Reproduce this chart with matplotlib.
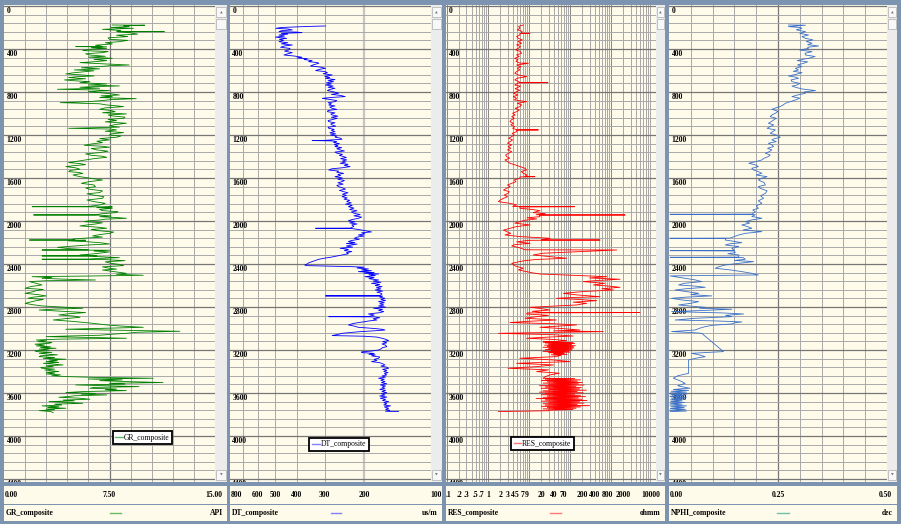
import matplotlib
matplotlib.use('Agg')
import matplotlib.pyplot as plt
from matplotlib.lines import Line2D
from matplotlib.patches import Rectangle
from matplotlib.transforms import blended_transform_factory

# ---- log data (depth, value) ----
gr_pts = [(177, 7.7), (179, 10.0), (185, 8.5), (192, 8.9), (200, 7.6), (208, 9.2), (217, 7.0), (228, 8.3),
          (237, 8.0), (239, 11.4), (241, 8.1), (250, 9.0), (262, 9.5), (272, 8.0), (285, 8.8), (296, 7.4),
          (310, 7.5), (320, 8.8), (332, 8.2), (342, 7.2), (353, 7.7), (365, 6.5), (376, 7.0), (378, 5.1),
          (380, 7.3), (388, 6.2), (394, 7.3), (404, 6.0), (415, 5.6), (424, 7.4), (434, 7.0), (445, 5.8),
          (456, 6.1), (468, 7.2), (476, 6.0), (487, 7.7), (497, 6.4), (508, 7.3), (518, 6.5), (527, 5.4),
          (538, 7.0), (549, 8.9), (556, 7.5), (564, 6.8), (575, 5.5), (585, 6.8), (595, 5.0), (603, 6.4),
          (611, 5.8), (622, 4.9), (632, 4.4), (642, 5.6), (651, 6.4), (658, 5.2), (666, 4.6), (677, 5.8),
          (688, 4.3), (696, 5.0), (704, 6.1), (714, 5.4), (725, 7.3), (735, 6.0), (744, 8.2), (750, 6.4),
          (756, 5.4), (765, 6.8), (775, 3.8), (781, 6.4), (787, 7.5), (797, 6.0), (806, 6.8), (817, 7.6),
          (828, 8.2), (836, 6.9), (843, 7.7), (852, 6.8), (862, 9.4), (871, 7.6), (880, 7.0), (890, 6.0),
          (899, 4.0), (910, 6.8), (921, 7.3), (929, 8.0), (936, 8.5), (948, 7.2), (961, 6.8), (972, 7.6),
          (983, 7.9), (993, 7.0), (1004, 8.7), (1014, 7.4), (1023, 7.7), (1034, 8.6), (1045, 8.5),
          (1055, 7.4), (1066, 8.0), (1078, 7.2), (1091, 8.7), (1103, 7.9), (1116, 7.5), (1127, 8.2),
          (1138, 4.6), (1145, 7.6), (1153, 8.0), (1165, 7.2), (1178, 8.5), (1190, 7.6), (1200, 7.5),
          (1210, 8.3), (1221, 8.0), (1234, 6.8), (1246, 7.5), (1258, 6.6), (1271, 7.0), (1284, 6.2),
          (1296, 5.7), (1305, 7.0), (1314, 7.5), (1326, 6.2), (1339, 6.6), (1351, 7.4), (1364, 6.8),
          (1376, 5.8), (1389, 6.2), (1398, 7.0), (1408, 7.3), (1420, 6.4), (1432, 5.8), (1445, 5.2),
          (1457, 4.6), (1466, 5.4), (1476, 5.8), (1485, 5.0), (1494, 4.4), (1506, 5.1), (1519, 5.4),
          (1530, 4.7), (1541, 4.6), (1549, 5.3), (1557, 5.6), (1572, 4.9), (1588, 5.4), (1603, 6.2),
          (1619, 7.0), (1635, 6.0), (1650, 5.5), (1665, 6.4), (1681, 6.5), (1693, 5.8), (1705, 6.1),
          (1720, 7.0), (1736, 6.8), (1747, 5.9), (1758, 6.3), (1774, 7.1), (1789, 7.0), (1805, 5.9),
          (1820, 6.4), (1836, 7.2), (1851, 6.8), (1865, 6.0), (1867, 2.0), (1869, 7.7), (1876, 6.6),
          (1882, 7.7), (1893, 6.8), (1904, 7.0), (1913, 8.1), (1922, 8.0), (1932, 7.0), (1942, 6.5),
          (1944, 2.1), (1946, 6.8), (1953, 7.6), (1960, 6.8), (1968, 8.0), (1975, 8.7), (1983, 7.2),
          (1991, 6.8), (1999, 6.0), (2006, 5.7), (2017, 7.0), (2028, 6.5), (2037, 5.9), (2046, 5.4),
          (2057, 6.6), (2068, 7.3), (2079, 6.2), (2090, 6.7), (2103, 7.8), (2115, 7.5), (2127, 6.8),
          (2139, 6.3), (2150, 7.0), (2161, 5.6), (2168, 4.9), (2175, 5.0), (2177, 1.8), (2179, 5.8),
          (2185, 4.6), (2192, 5.8), (2203, 6.9), (2214, 7.5), (2223, 6.0), (2232, 5.1), (2245, 3.8),
          (2257, 4.6), (2268, 6.0), (2270, 2.7), (2272, 7.5), (2280, 6.4), (2288, 7.5), (2298, 6.9),
          (2307, 6.3), (2316, 5.4), (2323, 6.6), (2325, 2.7), (2327, 6.0), (2341, 8.2), (2348, 6.8),
          (2354, 6.0), (2356, 2.7), (2358, 7.0), (2369, 8.6), (2380, 7.2), (2394, 7.6), (2404, 8.2),
          (2415, 8.5), (2427, 7.0), (2440, 7.5), (2448, 8.0), (2456, 7.0), (2471, 7.8), (2487, 8.7),
          (2496, 8.0), (2505, 9.9), (2512, 6.0), (2518, 2.0), (2525, 3.4), (2533, 2.7), (2541, 4.2),
          (2549, 6.5), (2556, 3.0), (2564, 1.8), (2580, 2.3), (2595, 2.7), (2610, 1.9), (2626, 1.5),
          (2637, 2.8), (2648, 2.3), (2660, 2.0), (2673, 1.5), (2685, 2.4), (2697, 3.0), (2708, 2.1),
          (2719, 1.7), (2730, 2.8), (2741, 2.3), (2753, 1.9), (2766, 1.5), (2778, 2.0), (2790, 2.7),
          (2800, 4.0), (2812, 5.6), (2820, 3.6), (2828, 2.5), (2840, 4.2), (2852, 5.8), (2863, 4.6),
          (2874, 3.9), (2885, 5.0), (2896, 5.4), (2908, 4.4), (2921, 3.5), (2933, 4.8), (2945, 5.8),
          (2956, 6.6), (2967, 7.3), (2978, 8.4), (2989, 9.9), (2998, 7.0), (3007, 4.4), (3016, 8.0),
          (3026, 12.5), (3035, 9.5), (3045, 8.7), (3054, 7.6), (3063, 6.8), (3070, 4.5), (3076, 3.0),
          (3083, 6.0), (3091, 8.7), (3099, 4.0), (3107, 2.3), (3115, 3.0), (3122, 2.4), (3130, 3.4),
          (3138, 3.2), (3146, 2.2), (3154, 2.9), (3162, 2.3), (3170, 3.3), (3177, 2.6), (3184, 3.7),
          (3192, 2.5), (3200, 3.2), (3208, 2.2), (3215, 2.3), (3222, 3.4), (3230, 2.5), (3237, 3.0),
          (3245, 3.8), (3254, 2.6), (3262, 2.5), (3270, 3.6), (3278, 2.8), (3286, 4.4), (3293, 3.2),
          (3300, 3.8), (3308, 3.0), (3316, 3.9), (3324, 2.8), (3332, 3.6), (3339, 4.2), (3347, 3.0),
          (3355, 3.5), (3363, 2.6), (3370, 2.7), (3378, 3.6), (3386, 2.9), (3394, 3.4), (3401, 3.9),
          (3408, 3.0), (3416, 3.6), (3423, 3.0), (3431, 4.0), (3440, 3.4), (3448, 4.6), (3455, 6.5),
          (3463, 10.6), (3470, 6.0), (3478, 8.4), (3485, 6.8), (3494, 8.8), (3503, 11.3), (3510, 7.5),
          (3518, 8.6), (3525, 5.1), (3533, 7.4), (3541, 9.6), (3548, 6.4), (3556, 6.1), (3563, 8.0),
          (3570, 7.2), (3578, 8.7), (3587, 5.6), (3596, 4.4), (3604, 6.5), (3611, 5.5), (3618, 7.3),
          (3626, 5.0), (3633, 4.6), (3640, 3.9), (3648, 5.3), (3658, 6.1), (3666, 4.2), (3673, 5.0),
          (3680, 3.2), (3688, 4.5), (3696, 5.6), (3704, 3.6), (3712, 4.1), (3720, 2.7), (3728, 3.9),
          (3735, 3.1), (3742, 4.4), (3750, 3.0), (3757, 3.6), (3764, 2.5), (3772, 3.3), (3782, 3.5)]

dt_pts = [(186, 298), (190, 350), (200, 470), (208, 498), (214, 440), (223, 420), (230, 470), (239, 482),
          (243, 400), (248, 380), (255, 470), (262, 440), (270, 482), (280, 455), (290, 500), (301, 445),
          (310, 480), (320, 460), (332, 482), (342, 440), (352, 470), (363, 420), (372, 455), (384, 474),
          (395, 430), (409, 436), (420, 455), (434, 420), (445, 440), (456, 458), (466, 410), (477, 380),
          (484, 400), (490, 360), (498, 372), (508, 342), (518, 355), (526, 325), (533, 319), (545, 335),
          (558, 348), (568, 315), (580, 298), (590, 318), (601, 330), (610, 300), (620, 292), (630, 305),
          (642, 278), (655, 300), (665, 285), (673, 298), (685, 270), (695, 290), (704, 274), (715, 295),
          (725, 280), (735, 298), (745, 275), (756, 290), (766, 270), (777, 285), (787, 292), (800, 272),
          (812, 260), (822, 280), (832, 255), (843, 243), (850, 275), (859, 308), (870, 285), (880, 265),
          (890, 270), (900, 290), (910, 280), (921, 288), (930, 270), (940, 285), (952, 278), (962, 265),
          (972, 290), (983, 292), (995, 270), (1005, 282), (1014, 278), (1025, 262), (1035, 280),
          (1045, 264), (1055, 275), (1066, 290), (1076, 288), (1087, 270), (1097, 282), (1107, 278),
          (1118, 268), (1128, 290), (1138, 288), (1148, 272), (1158, 280), (1169, 270), (1180, 285),
          (1190, 268), (1200, 283), (1210, 265), (1220, 270), (1230, 255), (1240, 251), (1250, 300),
          (1252, 342), (1255, 280), (1262, 265), (1271, 274), (1280, 258), (1290, 272), (1300, 262),
          (1308, 270), (1318, 252), (1328, 265), (1339, 256), (1349, 245), (1359, 270), (1370, 264),
          (1380, 250), (1390, 258), (1401, 247), (1410, 240), (1420, 255), (1432, 239), (1442, 250),
          (1452, 242), (1463, 256), (1473, 236), (1483, 245), (1494, 231), (1505, 250), (1515, 280),
          (1526, 288), (1536, 260), (1546, 265), (1557, 247), (1567, 262), (1578, 255), (1588, 270),
          (1600, 250), (1612, 262), (1623, 245), (1634, 251), (1645, 262), (1657, 248), (1669, 265),
          (1681, 260), (1692, 250), (1704, 242), (1715, 258), (1727, 247), (1738, 236), (1750, 250),
          (1762, 240), (1774, 251), (1785, 238), (1797, 246), (1808, 232), (1820, 239), (1832, 228),
          (1843, 242), (1855, 226), (1867, 235), (1880, 222), (1893, 232), (1905, 215), (1917, 228),
          (1929, 221), (1941, 208), (1952, 222), (1964, 205), (1975, 212), (1986, 225), (1997, 235),
          (2008, 220), (2018, 232), (2028, 215), (2037, 227), (2050, 222), (2066, 230), (2068, 330),
          (2070, 227), (2077, 215), (2084, 205), (2093, 195), (2102, 185), (2110, 205), (2120, 198),
          (2130, 212), (2140, 200), (2150, 215), (2161, 221), (2170, 210), (2182, 228), (2192, 235),
          (2200, 220), (2210, 240), (2215, 215), (2223, 227), (2233, 240), (2243, 225), (2254, 256),
          (2264, 235), (2275, 245), (2285, 227), (2295, 240), (2305, 235), (2316, 251), (2326, 265),
          (2336, 280), (2347, 303), (2357, 320), (2367, 330), (2378, 342), (2390, 355), (2400, 360),
          (2409, 369), (2415, 365), (2425, 227), (2430, 200), (2438, 215), (2446, 191), (2455, 205),
          (2463, 185), (2471, 212), (2480, 180), (2486, 200), (2493, 172), (2500, 190), (2508, 178),
          (2518, 198), (2527, 180), (2537, 190), (2549, 172), (2559, 182), (2570, 168), (2580, 185),
          (2590, 170), (2600, 178), (2611, 166), (2621, 176), (2632, 168), (2642, 178), (2652, 165),
          (2662, 175), (2672, 168), (2679, 166), (2695, 170), (2697, 298), (2699, 165), (2709, 170),
          (2719, 161), (2729, 168), (2740, 160), (2750, 172), (2760, 162), (2770, 170), (2781, 163),
          (2791, 172), (2801, 160), (2812, 181), (2822, 165), (2832, 172), (2843, 163), (2853, 170),
          (2865, 191), (2875, 180), (2888, 190), (2890, 288), (2892, 180), (2900, 170), (2910, 182),
          (2921, 175), (2930, 190), (2938, 200), (2945, 212), (2955, 225), (2967, 235), (2977, 222),
          (2989, 212), (3000, 180), (3008, 165), (3014, 161), (3020, 175), (3030, 210), (3045, 251),
          (3055, 262), (3066, 278), (3072, 200), (3080, 175), (3091, 166), (3100, 160), (3113, 155),
          (3122, 165), (3133, 158), (3144, 166), (3155, 160), (3169, 158), (3178, 165), (3190, 168),
          (3200, 172), (3210, 185), (3217, 205), (3224, 205), (3232, 180), (3240, 190), (3246, 178),
          (3255, 185), (3265, 170), (3277, 172), (3287, 180), (3297, 175), (3308, 185), (3318, 170),
          (3328, 165), (3339, 161), (3350, 168), (3360, 158), (3370, 155), (3380, 165), (3390, 158),
          (3401, 163), (3410, 156), (3420, 162), (3432, 158), (3442, 166), (3452, 160), (3463, 172),
          (3472, 162), (3482, 168), (3494, 161), (3504, 167), (3514, 158), (3525, 169), (3535, 160),
          (3545, 166), (3556, 161), (3566, 170), (3576, 160), (3587, 166), (3597, 158), (3607, 167),
          (3618, 161), (3628, 170), (3638, 158), (3649, 169), (3659, 160), (3670, 165), (3680, 155),
          (3690, 163), (3700, 158), (3711, 163), (3720, 152), (3730, 162), (3742, 155), (3752, 160),
          (3762, 153), (3770, 160), (3773, 140)]

res_pts = [(177, 7.3), (190, 5.6), (208, 6.0), (222, 5.2), (236, 6.8), (252, 6.5), (254, 10.6), (256, 6.0),
           (270, 6.0), (285, 5.0), (301, 5.5), (316, 6.9), (330, 5.4), (347, 6.6), (362, 5.0), (378, 6.2),
           (394, 5.5), (408, 4.7), (424, 6.2), (440, 6.6), (455, 5.0), (470, 5.8), (487, 4.5), (500, 5.4),
           (515, 4.8), (531, 6.0), (533, 9.7), (549, 5.0), (565, 6.4), (580, 5.2), (595, 6.0), (610, 5.0),
           (626, 4.5), (642, 5.6), (657, 8.8), (672, 5.2), (688, 4.5), (700, 5.4), (711, 6.0), (713, 29),
           (716, 5.5), (735, 4.5), (746, 6.2), (756, 5.5), (770, 4.6), (784, 6.0), (797, 5.0), (812, 4.2),
           (828, 5.4), (843, 4.15), (858, 5.0), (874, 4.4), (890, 8.8), (905, 5.2), (920, 6.6), (936, 6.0),
           (952, 4.6), (968, 5.8), (983, 5.0), (998, 4.0), (1014, 4.6), (1029, 3.8), (1045, 4.4),
           (1060, 3.7), (1076, 3.44), (1091, 4.2), (1106, 3.6), (1122, 4.5), (1138, 4.0), (1151, 5.0),
           (1153, 17), (1156, 5.0), (1169, 5.0), (1185, 3.9), (1200, 4.4), (1215, 3.8), (1230, 3.2),
           (1246, 4.0), (1262, 3.44), (1277, 3.0), (1292, 3.8), (1308, 3.1), (1324, 3.6), (1339, 3.0),
           (1355, 3.8), (1370, 3.2), (1386, 2.7), (1401, 2.85), (1416, 3.4), (1432, 2.6), (1447, 3.0),
           (1463, 3.44), (1478, 4.6), (1494, 6.0), (1510, 8.0), (1525, 8.8), (1540, 6.5), (1557, 7.3),
           (1572, 9.0), (1586, 8.0), (1588, 14), (1590, 6.0), (1603, 6.0), (1618, 4.4), (1634, 4.8),
           (1650, 3.8), (1665, 3.0), (1681, 3.5), (1696, 2.85), (1712, 2.4), (1727, 3.3), (1743, 3.1),
           (1758, 2.5), (1774, 3.0), (1789, 2.4), (1805, 2.0), (1820, 1.8), (1836, 3.44), (1850, 5.0),
           (1865, 4.0), (1867, 130), (1870, 6.0), (1882, 6.0), (1893, 12), (1904, 18.5), (1922, 12.7),
           (1932, 25), (1942, 15), (1944, 2200), (1947, 18), (1960, 18.5), (1970, 9.0), (1981, 15.4),
           (1993, 8.0), (2006, 6.0), (2020, 4.5), (2037, 10.6), (2052, 5.0), (2068, 3.44), (2084, 2.4),
           (2099, 2.85), (2115, 3.6), (2130, 2.6), (2145, 6.0), (2161, 33), (2175, 20), (2177, 540),
           (2180, 10), (2194, 5.0), (2208, 10.6), (2220, 4.5), (2232, 3.8), (2250, 6.0), (2268, 8.0),
           (2270, 1380), (2285, 175), (2300, 22), (2316, 12.7), (2330, 30), (2347, 83), (2358, 15),
           (2369, 8.0), (2380, 5.5), (2394, 3.8), (2418, 4.6), (2440, 7.3), (2455, 5.5), (2471, 8.8),
           (2482, 12), (2493, 18.5), (2505, 120), (2518, 784), (2530, 300), (2542, 1660), (2553, 500),
           (2564, 210), (2580, 700), (2595, 371), (2606, 900), (2617, 1660), (2630, 600), (2642, 1140),
           (2657, 200), (2673, 69), (2688, 150), (2704, 540), (2712, 120), (2719, 47), (2730, 160),
           (2741, 450), (2755, 120), (2766, 255), (2781, 145), (2792, 40), (2803, 10.6), (2815, 20),
           (2828, 32.5), (2840, 12), (2850, 20), (2852, 5100), (2855, 9.0), (2865, 8.8), (2878, 30),
           (2890, 15.4), (2905, 8.0), (2921, 47), (2933, 10), (2945, 3.44), (2956, 40), (2967, 145),
           (2978, 50), (2989, 18.5), (3000, 60), (3014, 175), (3022, 40), (3029, 650), (3037, 30),
           (3045, 1.8), (3058, 40), (3070, 120), (3080, 30), (3091, 8.8), (3102, 40), (3113, 83),
           (3120, 50), (3125, 22), (3130, 120), (3135, 25), (3140, 130), (3145, 30), (3150, 110),
           (3155, 24), (3160, 135), (3165, 28), (3170, 120), (3175, 22), (3180, 125), (3185, 30),
           (3190, 115), (3195, 25), (3200, 110), (3205, 35), (3210, 95), (3215, 22), (3220, 100),
           (3225, 30), (3230, 70), (3235, 40), (3240, 85), (3245, 35), (3250, 60), (3262, 45), (3277, 6.0),
           (3293, 40), (3308, 100), (3324, 5.0), (3339, 40), (3355, 15), (3370, 3.1), (3385, 30),
           (3401, 15.4), (3416, 55), (3432, 32.5), (3448, 25), (3463, 22), (3466, 130), (3472, 25),
           (3478, 180), (3484, 20), (3490, 150), (3496, 28), (3502, 200), (3508, 22), (3514, 160),
           (3520, 30), (3526, 220), (3532, 18), (3538, 140), (3544, 25), (3550, 190), (3556, 20),
           (3562, 170), (3568, 30), (3574, 250), (3580, 22), (3586, 150), (3592, 18), (3598, 210),
           (3604, 25), (3610, 130), (3616, 20), (3622, 180), (3628, 28), (3634, 240), (3640, 22),
           (3646, 160), (3652, 15), (3658, 200), (3664, 25), (3670, 260), (3676, 20), (3682, 170),
           (3688, 30), (3694, 220), (3700, 22), (3706, 150), (3712, 25), (3718, 300), (3724, 20),
           (3730, 180), (3736, 28), (3742, 140), (3748, 22), (3754, 120), (3760, 30), (3765, 30),
           (3773, 1.8)]

nphi_pts = [(177, 0.274), (179, 0.313), (192, 0.274), (200, 0.300), (208, 0.305), (222, 0.292),
            (239, 0.313), (255, 0.300), (270, 0.320), (285, 0.305), (301, 0.313), (315, 0.330),
            (330, 0.315), (347, 0.328), (360, 0.318), (372, 0.343), (384, 0.318), (394, 0.320),
            (410, 0.300), (425, 0.328), (440, 0.312), (456, 0.313), (470, 0.335), (487, 0.320),
            (498, 0.305), (508, 0.294), (520, 0.318), (533, 0.309), (548, 0.295), (564, 0.305),
            (580, 0.290), (595, 0.297), (608, 0.285), (620, 0.305), (636, 0.292), (651, 0.274),
            (662, 0.290), (673, 0.297), (688, 0.280), (704, 0.282), (720, 0.300), (735, 0.294),
            (746, 0.282), (756, 0.290), (772, 0.305), (787, 0.336), (800, 0.310), (812, 0.313),
            (828, 0.295), (843, 0.282), (858, 0.300), (874, 0.290), (890, 0.278), (905, 0.267),
            (920, 0.262), (936, 0.255), (948, 0.245), (961, 0.236), (980, 0.250), (998, 0.244),
            (1014, 0.236), (1029, 0.232), (1045, 0.246), (1060, 0.240), (1075, 0.235), (1091, 0.228),
            (1106, 0.240), (1122, 0.232), (1138, 0.225), (1153, 0.244), (1168, 0.238), (1184, 0.232),
            (1203, 0.248), (1222, 0.255), (1234, 0.242), (1246, 0.236), (1262, 0.246), (1277, 0.228),
            (1292, 0.236), (1308, 0.240), (1324, 0.226), (1339, 0.236), (1355, 0.230), (1370, 0.221),
            (1386, 0.232), (1401, 0.228), (1416, 0.218), (1432, 0.213), (1447, 0.200), (1463, 0.183),
            (1478, 0.198), (1494, 0.205), (1510, 0.190), (1526, 0.194), (1541, 0.205), (1557, 0.213),
            (1572, 0.200), (1588, 0.225), (1603, 0.212), (1619, 0.205), (1642, 0.218), (1665, 0.221),
            (1680, 0.205), (1696, 0.209), (1720, 0.225), (1743, 0.221), (1766, 0.210), (1789, 0.217),
            (1812, 0.205), (1836, 0.213), (1859, 0.200), (1882, 0.205), (1898, 0.192), (1913, 0.198),
            (1936, 0.190), (1938, 0.0025), (1941, 0.198), (1958, 0.190), (1975, 0.213), (1990, 0.190),
            (2006, 0.175), (2020, 0.185), (2037, 0.167), (2052, 0.180), (2068, 0.190), (2084, 0.170),
            (2099, 0.213), (2115, 0.175), (2130, 0.160), (2145, 0.150), (2159, 0.140), (2161, 0.0025),
            (2164, 0.130), (2177, 0.129), (2190, 0.150), (2202, 0.167), (2212, 0.140), (2223, 0.129),
            (2238, 0.160), (2254, 0.144), (2274, 0.150), (2276, 0.0025), (2279, 0.150), (2294, 0.152),
            (2305, 0.135), (2316, 0.160), (2336, 0.160), (2338, 0.0025), (2341, 0.170), (2356, 0.175),
            (2367, 0.150), (2378, 0.194), (2394, 0.160), (2409, 0.129), (2425, 0.115), (2440, 0.106),
            (2455, 0.140), (2471, 0.167), (2487, 0.190), (2502, 0.205), (2511, 0.0025), (2522, 0.020),
            (2533, 0.037), (2548, 0.060), (2564, 0.075), (2580, 0.035), (2595, 0.022), (2606, 0.060),
            (2617, 0.083), (2630, 0.040), (2642, 0.014), (2657, 0.040), (2673, 0.068), (2685, 0.050),
            (2697, 0.098), (2708, 0.040), (2719, 0.006), (2735, 0.030), (2750, 0.068), (2766, 0.050),
            (2781, 0.022), (2792, 0.050), (2803, 0.083), (2812, 0.070), (2821, 0.144), (2832, 0.080),
            (2843, 0.006), (2855, 0.120), (2865, 0.171), (2878, 0.130), (2890, 0.144), (2905, 0.060),
            (2921, 0.014), (2930, 0.110), (2939, 0.167), (2948, 0.150), (2958, 0.144), (2970, 0.100),
            (2983, 0.083), (2998, 0.070), (3014, 0.060), (3022, 0.030), (3029, 0.006), (3037, 0.050),
            (3045, 0.075), (3215, 0.125), (3231, 0.052), (3246, 0.070), (3262, 0.083), (3278, 0.060),
            (3293, 0.045), (3417, 0.045), (3440, 0.020), (3463, 0.010), (3486, 0.025), (3510, 0.037),
            (3533, 0.020), (3556, 0.048), (3560, 0.030), (3568, 0.010), (3576, 0.045), (3584, 0.005),
            (3592, 0.040), (3600, 0.003), (3608, 0.042), (3616, 0.004), (3624, 0.035), (3632, 0.002),
            (3640, 0.040), (3648, 0.005), (3656, 0.038), (3664, 0.003), (3672, 0.030), (3680, 0.004),
            (3688, 0.036), (3696, 0.003), (3704, 0.030), (3712, 0.002), (3720, 0.040), (3728, 0.004),
            (3736, 0.035), (3744, 0.003), (3752, 0.038), (3760, 0.002), (3768, 0.040), (3773, 0.003)]

track_names = ['GR_composite', 'DT_composite', 'RES_composite', 'NPHI_composite']
track_units = ['API', 'us/m', 'ohmm', 'dec']
gr_scale = ['0.00', '7.50', '15.00']
dt_ticks = [600, 500, 400, 300, 200]
res_ticks = [0.2, 0.3, 0.5, 0.7, 1, 2, 3, 4, 5, 7, 9, 20, 40, 70, 200, 400, 800, 2000]
res_labels = ['.2', '.3', '.5', '.7', '1', '2', '3', '4', '5', '7', '9', '20', '40', '70', '200', '400', '800', '2000']
nphi_scale = ['0.00', '0.25', '0.50']

# ---- styling ----
W, H = 901, 524
FRAME = '#7d94b0'
CREAM = '#fffbeb'
MINOR = '#a9a9a9'
MAJOR = '#767676'
SERIF = 'Liberation Serif'
TOP, BOT = 5, 482
DMIN, DMAX = -9, 4428


def box(x0, y0, x1, y1):
    return [x0 / W, 1 - y1 / H, (x1 - x0) / W, (y1 - y0) / H]


def clean(ax):
    for s in ax.spines.values():
        s.set_visible(False)
    ax.tick_params(which='both', bottom=False, left=False, labelbottom=False, labelleft=False)


fig = plt.figure(figsize=(W / 100, H / 100), dpi=100, facecolor=FRAME)

# layout per track: plot x-range, scrollbar x-range
layout = [((4, 215), (215, 227)), ((230, 431), (431, 442)), ((446, 656), (656, 665)), ((669, 887), (887, 897))]

axes = []
for (px0, px1), (sx0, sx1) in layout:
    ax = fig.add_axes(box(px0, TOP, px1, BOT))
    ax.set_facecolor(CREAM)
    clean(ax)
    axes.append(ax)

    # scrollbar
    sb = fig.add_axes(box(sx0, TOP, sx1, BOT))
    sb.set_facecolor('#ececec')
    clean(sb)
    sb.set_xlim(0, 1)
    sb.set_ylim(BOT, TOP)
    for y0, y1 in [(7, 17), (19, 29), (470, 480)]:
        sb.add_patch(Rectangle((0.1, y0), 0.8, y1 - y0, facecolor='#f8f8f8', edgecolor='#b8b8b8', lw=0.6))
    sb.text(0.5, 12.5, '\u25b2', fontsize=2.5, color='#707070', ha='center', va='center')
    sb.text(0.5, 475, '\u25bc', fontsize=2.5, color='#707070', ha='center', va='center')

ax_gr, ax_dt, ax_res, ax_nphi = axes
ax_gr.set_xlim(0, 15)
ax_dt.set_xscale('log')
ax_dt.set_xlim(800, 100)
ax_res.set_xscale('log')
ax_res.set_xlim(0.095, 12500)
ax_nphi.set_xlim(0, 0.5)

# vertical grid lines
for i in range(1, 10):
    ax_gr.axvline(1.5 * i, color=MAJOR if i == 5 else MINOR, lw=0.9 if i == 5 else 0.7, zorder=1)
    ax_nphi.axvline(0.05 * i, color=MAJOR if i == 5 else MINOR, lw=0.9 if i == 5 else 0.7, zorder=1)
for v in [700, 600, 500, 400, 300]:
    ax_dt.axvline(v, color=MINOR, lw=0.7, zorder=1)
ax_dt.axvline(200, color='#c4c4c4', lw=1.6, zorder=1)
for dec in [0.1, 1, 10, 100, 1000]:
    for m in range(1, 10):
        ax_res.axvline(dec * m, color=MAJOR if m == 1 else '#9a9a9a', lw=0.6, zorder=1)

# depth grid and labels
for ax in axes:
    ax.set_ylim(DMAX, DMIN)
    for d in range(0, 4401, 80):
        major = d % 400 == 0
        ax.axhline(d, color=MAJOR if major else MINOR, lw=0.9 if major else 0.7, zorder=1)
    trans = blended_transform_factory(ax.transAxes, ax.transData)
    for d in range(0, 4401, 400):
        ax.text(0.012, d + 12, str(d), transform=trans, fontsize=5.5, fontweight='bold',
                family=SERIF, ha='left', va='top', zorder=2, clip_on=True)

# curves
curves = [(ax_gr, gr_pts, '#008000'), (ax_dt, dt_pts, '#0000ff'),
          (ax_res, res_pts, '#ff0000'), (ax_nphi, nphi_pts, '#3a70c8')]
for ax, pts, col in curves:
    depth, val = zip(*pts)
    ax.plot(val, depth, color=col, lw=0.6, zorder=3)

# legends inside tracks
legend_spec = [(ax_gr, 'GR_composite', '#66bb66', (142.5, 437.5)),
               (ax_dt, 'DT_composite', '#8080ff', (339, 444.5)),
               (ax_res, 'RES_composite', '#ff7777', (542.5, 443.5))]
for ax, name, col, (cx, cy) in legend_spec:
    leg = ax.legend(handles=[Line2D([], [], color=col, lw=1.0)], labels=[name], loc='center',
                    bbox_to_anchor=(cx / W, 1 - cy / H), bbox_transform=fig.transFigure,
                    prop={'family': SERIF, 'size': 5.5}, handlelength=1.0, handletextpad=0.1,
                    borderpad=0.35, fancybox=False, framealpha=1, edgecolor='black')
    leg.get_frame().set_linewidth(1.3)
    leg.set_zorder(5)

# header panels
headers = [(4, 227), (230, 442), (446, 665), (669, 897)]
sample_cols = ['#66bb66', '#8080ff', '#ff7777', '#70c0b0']
hfont = dict(family=SERIF, fontsize=5.5, fontweight='bold')
for i, (hx0, hx1) in enumerate(headers):
    h1 = fig.add_axes(box(hx0, 486, hx1, 504))
    h2 = fig.add_axes(box(hx0, 505, hx1, 521))
    for h in (h1, h2):
        h.set_facecolor(CREAM)
        clean(h)
        h.set_xlim(0, 1)
        h.set_ylim(0, 1)
    h2.text(2 / (hx1 - hx0), 0.5, track_names[i], ha='left', va='center', **hfont)
    h2.text(1 - 4 / (hx1 - hx0), 0.5, track_units[i], ha='right', va='center', **hfont)
    h2.plot([0.475, 0.525], [0.5, 0.5], color=sample_cols[i], lw=1.0)

    trans = blended_transform_factory(axes[i].transData, h1.transAxes)
    right = 1 - 5 / (hx1 - hx0)
    if i == 0:
        h1.text(0.005, 0.5, gr_scale[0], ha='left', va='center', **hfont)
        h1.text(7.5, 0.5, gr_scale[1], transform=trans, ha='center', va='center', **hfont)
        h1.text(right, 0.5, gr_scale[2], ha='right', va='center', **hfont)
    elif i == 1:
        h1.text(0.005, 0.5, '800', ha='left', va='center', **hfont)
        for v in dt_ticks:
            h1.text(v, 0.5, str(v), transform=trans, ha='center', va='center', **hfont)
        h1.text(1.0, 0.5, '100', ha='right', va='center', **hfont)
    elif i == 2:
        h1.text(0.0, 0.5, '.1', ha='left', va='center', **hfont)
        for v, lab in zip(res_ticks, res_labels):
            h1.text(v, 0.5, lab, transform=trans, ha='center', va='center', **hfont)
        h1.text(right, 0.5, '10000', ha='right', va='center', **hfont)
    else:
        h1.text(0.005, 0.5, nphi_scale[0], ha='left', va='center', **hfont)
        h1.text(0.25, 0.5, nphi_scale[1], transform=trans, ha='center', va='center', **hfont)
        h1.text(right, 0.5, nphi_scale[2], ha='right', va='center', **hfont)

fig.savefig('out.png', dpi=100, facecolor=FRAME)
